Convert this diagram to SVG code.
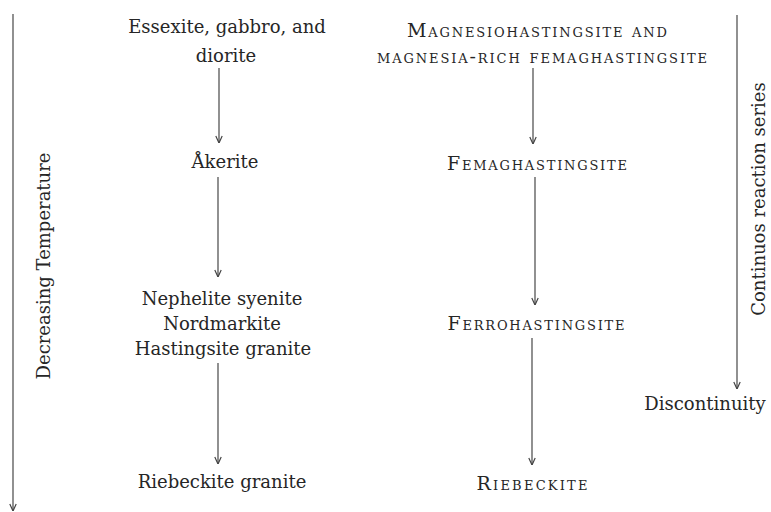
<svg xmlns="http://www.w3.org/2000/svg" width="771" height="512" viewBox="0 0 771 512">
<defs>
<style>
text{font-family:"DejaVu Serif","Liberation Serif",serif;font-size:18px;fill:#262626;text-anchor:middle}
.sc{font-variant:small-caps;font-size:19px}
.ln{stroke:#555;stroke-width:1.3;fill:none}
</style>
<marker id="ah" viewBox="0 0 10 8" refX="10" refY="4" markerWidth="10" markerHeight="8" markerUnits="userSpaceOnUse" orient="auto">
<path d="M3,0.8 L10,4 L3,7.2" fill="none" stroke="#444" stroke-width="1.2"/>
</marker>
</defs>
<rect width="771" height="512" fill="#fff"/>
<g id="connectors">
<line class="ln" x1="13" y1="14" x2="13" y2="511" marker-end="url(#ah)"/>
<line class="ln" x1="737" y1="15" x2="737" y2="389" marker-end="url(#ah)"/>
<line class="ln" x1="219" y1="68" x2="219" y2="143" marker-end="url(#ah)"/>
<line class="ln" x1="218" y1="177" x2="218" y2="277" marker-end="url(#ah)"/>
<line class="ln" x1="218" y1="363" x2="218" y2="464" marker-end="url(#ah)"/>
<line class="ln" x1="533" y1="68" x2="533" y2="144" marker-end="url(#ah)"/>
<line class="ln" x1="535" y1="177" x2="535" y2="305" marker-end="url(#ah)"/>
<line class="ln" x1="532" y1="338" x2="532" y2="465" marker-end="url(#ah)"/>
</g>
<g id="axis-temp"><text transform="translate(50,266) rotate(-90)">Decreasing  Temperature</text></g>
<g id="axis-series"><text transform="translate(765,199) rotate(-90)">Continuos reaction series</text></g>
<g id="discontinuity"><text x="705" y="410">Discontinuity</text></g>
<g id="essexite"><text x="227" y="33">Essexite, gabbro, and</text><text x="226" y="62">diorite</text></g>
<g id="akerite"><text x="225" y="168">Åkerite</text></g>
<g id="nephelite"><text x="222" y="305">Nephelite syenite</text><text x="222" y="330">Nordmarkite</text><text x="223" y="355">Hastingsite granite</text></g>
<g id="riebeckite-granite"><text x="222" y="488">Riebeckite granite</text></g>
<g id="magnesio"><text class="sc" x="537" y="37" textLength="260">Magnesiohastingsite and</text><text class="sc" x="542" y="63" textLength="330">magnesia-rich  femaghastingsite</text></g>
<g id="femag"><text class="sc" x="537" y="170" textLength="180">Femaghastingsite</text></g>
<g id="ferro"><text class="sc" x="536" y="330" textLength="177">Ferrohastingsite</text></g>
<g id="riebeckite"><text class="sc" x="532" y="490" textLength="111">Riebeckite</text></g>
</svg>
